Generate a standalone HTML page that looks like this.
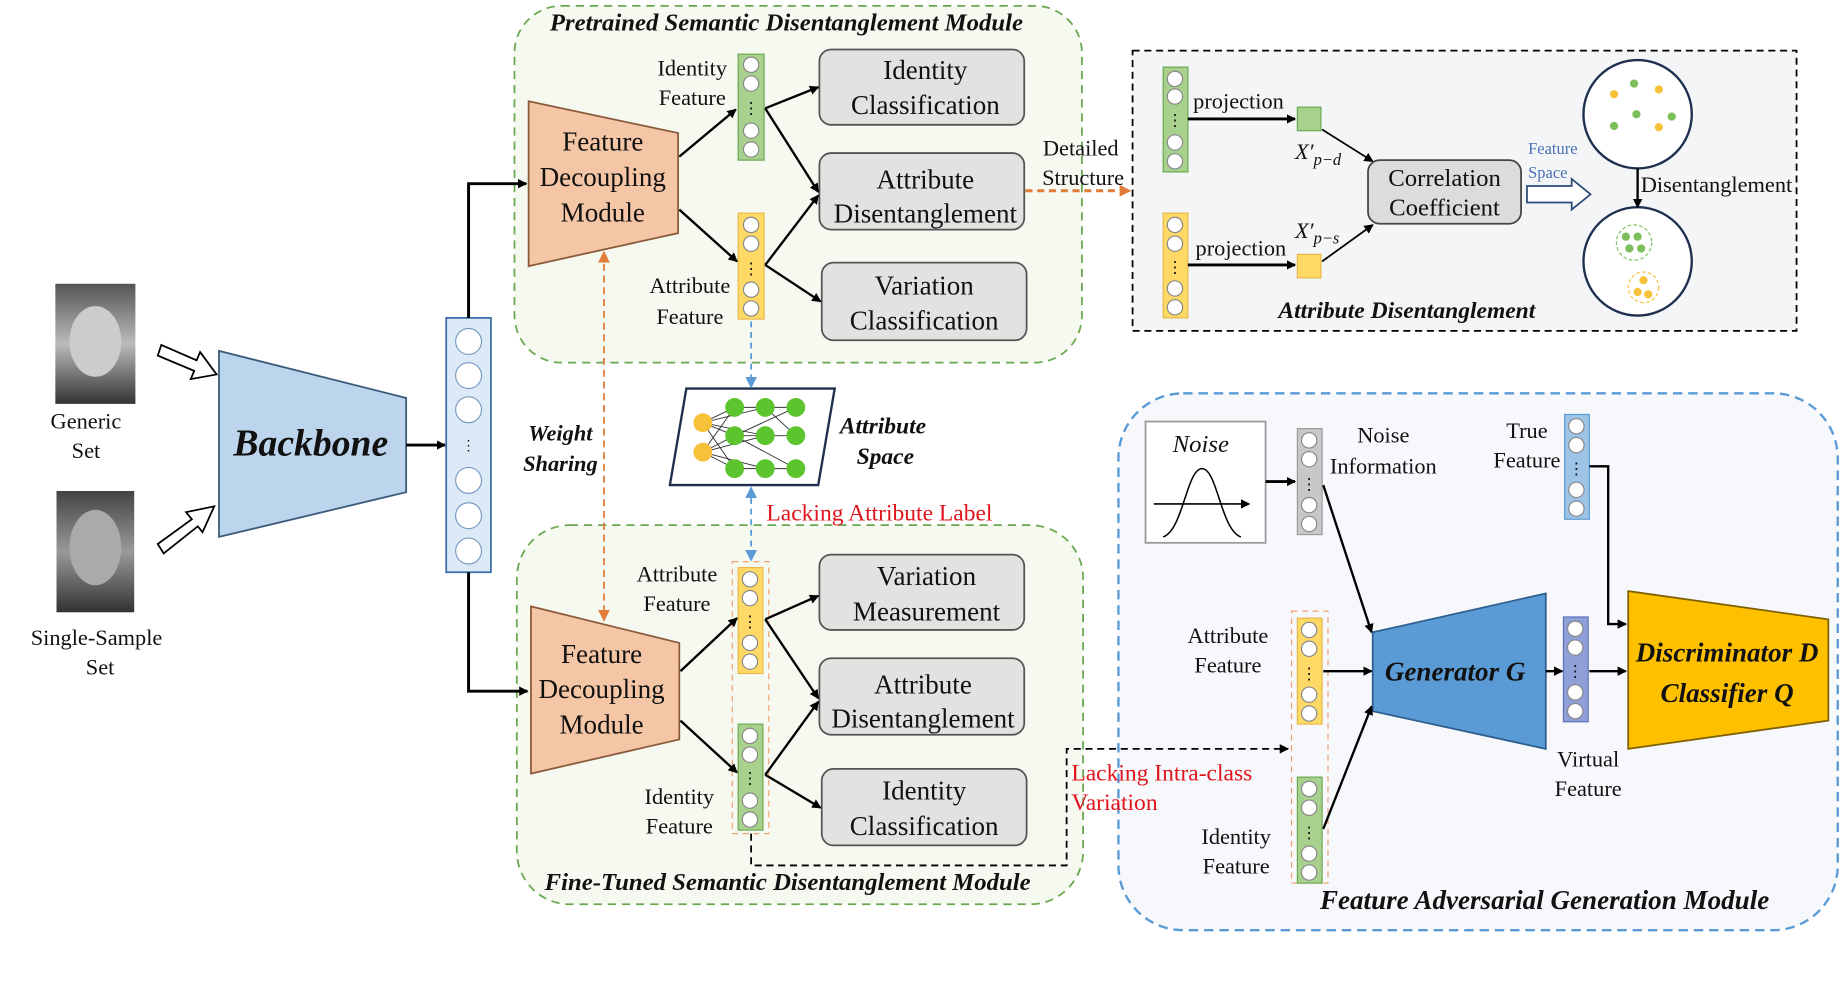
<!DOCTYPE html>
<html><head><meta charset="utf-8"><style>
html,body{margin:0;padding:0;background:#fff;}
svg{display:block;}
text{font-family:"Liberation Serif",serif;fill:#111;}
.bi{font-weight:bold;font-style:italic;}
</style></head><body>
<svg width="1846" height="982" viewBox="0 0 1568 834" preserveAspectRatio="none" xmlns="http://www.w3.org/2000/svg">
<defs>
<marker id="ab" markerWidth="8" markerHeight="8" refX="7" refY="4" orient="auto" markerUnits="userSpaceOnUse"><path d="M0,0 L8,4 L0,8z" fill="#000"/></marker>
<marker id="ao" markerWidth="10" markerHeight="10" refX="9" refY="5" orient="auto" markerUnits="userSpaceOnUse"><path d="M0,0 L10,5 L0,10z" fill="#e07b39"/></marker>
<marker id="aos" markerWidth="10" markerHeight="10" refX="1" refY="5" orient="auto" markerUnits="userSpaceOnUse"><path d="M10,0 L0,5 L10,10z" fill="#e07b39"/></marker>
<marker id="abl" markerWidth="10" markerHeight="10" refX="9" refY="5" orient="auto" markerUnits="userSpaceOnUse"><path d="M0,0 L10,5 L0,10z" fill="#5b9bd5"/></marker>
<marker id="abls" markerWidth="10" markerHeight="10" refX="1" refY="5" orient="auto" markerUnits="userSpaceOnUse"><path d="M10,0 L0,5 L10,10z" fill="#5b9bd5"/></marker>
<linearGradient id="f1" x1="0" y1="0" x2="0" y2="1"><stop offset="0" stop-color="#555"/><stop offset="0.5" stop-color="#bbb"/><stop offset="1" stop-color="#333"/></linearGradient>
<linearGradient id="f2" x1="0" y1="0" x2="0" y2="1"><stop offset="0" stop-color="#444"/><stop offset="0.5" stop-color="#999"/><stop offset="1" stop-color="#333"/></linearGradient>
</defs>

<!-- module backgrounds -->
<rect x="437" y="5" width="482" height="303" rx="40" fill="#f5f9f0" stroke="#6aa84f" stroke-width="1.5" stroke-dasharray="7,5"/>
<rect x="439" y="446" width="481" height="322" rx="45" fill="#f5f9f0" stroke="#6aa84f" stroke-width="1.5" stroke-dasharray="7,5"/>
<rect x="962" y="43" width="564" height="238" fill="#f3f5f7" stroke="#000" stroke-width="1.5" stroke-dasharray="6,4"/>
<rect x="950" y="334" width="611" height="456" rx="55" fill="#f6f8fb" stroke="#5b9bd5" stroke-width="2" stroke-dasharray="8,5"/>

<!-- faces -->
<rect x="47" y="241" width="68" height="102" fill="url(#f1)"/>
<ellipse cx="81" cy="290" rx="22" ry="30" fill="#ccc"/>
<rect x="48" y="417" width="66" height="103" fill="url(#f2)"/>
<ellipse cx="81" cy="465" rx="22" ry="32" fill="#aaa"/>
<g font-size="19" text-anchor="middle">
<text x="73" y="364">Generic</text><text x="73" y="389">Set</text>
<text x="82" y="548">Single-Sample</text><text x="85" y="573">Set</text>
</g>
<path d="M137,293 L167,306 L170,299 L184,318 L162,322 L165,315 L134,302z" fill="#fff" stroke="#000" stroke-width="1.5"/>
<path d="M134,462 L163,441 L158,435 L182,430 L172,452 L168,447 L139,470z" fill="#fff" stroke="#000" stroke-width="1.5"/>

<!-- backbone -->
<polygon points="186,298 345,338 345,418 186,456" fill="#bcd5ec" stroke="#3a5a7a" stroke-width="1.5"/>
<text x="264" y="387" font-size="32" class="bi" text-anchor="middle">Backbone</text>
<line x1="345" y1="378" x2="378" y2="378" stroke="#000" stroke-width="2.5" marker-end="url(#ab)"/>
<rect x="379" y="270" width="38" height="216" fill="#dce9f7" stroke="#3a6ea5" stroke-width="1.5"/>
<g fill="#fff" stroke="#7a9cc2"><circle cx="398" cy="290" r="11"/><circle cx="398" cy="319" r="11"/><circle cx="398" cy="348" r="11"/><circle cx="398" cy="408" r="11"/><circle cx="398" cy="438" r="11"/><circle cx="398" cy="468" r="11"/></g>
<text x="398" y="382" font-size="12" text-anchor="middle" fill="#fff">⋮</text>
<polyline points="398,270 398,156 447,156" fill="none" stroke="#000" stroke-width="2.5" marker-end="url(#ab)"/>
<polyline points="398,486 398,587 448,587" fill="none" stroke="#000" stroke-width="2.5" marker-end="url(#ab)"/>

<!-- top green module -->
<text x="668" y="26" font-size="21" class="bi" text-anchor="middle">Pretrained Semantic Disentanglement Module</text>
<polygon points="449,86 576,113 576,198 449,226" fill="#f4c6a5" stroke="#8b5a3a" stroke-width="1.5"/>
<g font-size="23" text-anchor="middle"><text x="512" y="128">Feature</text><text x="512" y="158">Decoupling</text><text x="512" y="188">Module</text></g>
<g font-size="19" text-anchor="middle"><text x="588" y="64">Identity</text><text x="588" y="89">Feature</text><text x="586" y="249">Attribute</text><text x="586" y="275">Feature</text></g>
<rect x="627" y="46" width="22" height="90" fill="#a9d18e" stroke="#6aa84f"/>
<g fill="#fff" stroke="#888"><circle cx="638" cy="55" r="6.5"/><circle cx="638" cy="71" r="6.5"/><circle cx="638" cy="111" r="6.5"/><circle cx="638" cy="127" r="6.5"/></g>
<text x="638" y="97" font-size="14" text-anchor="middle">⋮</text>
<rect x="627" y="181" width="22" height="90" fill="#ffd966" stroke="#e8b84a"/>
<g fill="#fff" stroke="#888"><circle cx="638" cy="191" r="6.5"/><circle cx="638" cy="207" r="6.5"/><circle cx="638" cy="246" r="6.5"/><circle cx="638" cy="262" r="6.5"/></g>
<text x="638" y="233" font-size="14" text-anchor="middle">⋮</text>
<g fill="#e2e3e1" stroke="#555" stroke-width="1.5">
<rect x="696" y="42" width="174" height="64" rx="10"/><rect x="696" y="130" width="174" height="65" rx="10"/><rect x="698" y="223" width="174" height="66" rx="10"/></g>
<g font-size="23" text-anchor="middle">
<text x="786" y="67">Identity</text><text x="786" y="97">Classification</text>
<text x="786" y="160">Attribute</text><text x="786" y="189">Disentanglement</text>
<text x="785" y="250">Variation</text><text x="785" y="280">Classification</text></g>
<g stroke="#000" stroke-width="2" marker-end="url(#ab)">
<line x1="577" y1="133" x2="625" y2="93"/><line x1="577" y1="178" x2="626" y2="222"/>
<line x1="650" y1="92" x2="695" y2="74"/><line x1="650" y1="92" x2="695" y2="163"/>
<line x1="650" y1="225" x2="695" y2="166"/><line x1="650" y1="225" x2="697" y2="256"/></g>
<g font-size="19" text-anchor="middle"><text x="918" y="132">Detailed</text><text x="920" y="157">Structure</text></g>
<line x1="871" y1="162" x2="960" y2="162" stroke="#e07b39" stroke-width="2.5" stroke-dasharray="6,4" marker-end="url(#ao)"/>

<!-- top right box -->
<rect x="988" y="57" width="21" height="89" fill="#a9d18e" stroke="#6aa84f"/>
<g fill="#fff" stroke="#888"><circle cx="998" cy="67" r="6.5"/><circle cx="998" cy="82" r="6.5"/><circle cx="998" cy="121" r="6.5"/><circle cx="998" cy="137" r="6.5"/></g>
<text x="998" y="107" font-size="14" text-anchor="middle">⋮</text>
<rect x="988" y="181" width="21" height="89" fill="#ffd966" stroke="#e8b84a"/>
<g fill="#fff" stroke="#888"><circle cx="998" cy="191" r="6.5"/><circle cx="998" cy="207" r="6.5"/><circle cx="998" cy="245" r="6.5"/><circle cx="998" cy="261" r="6.5"/></g>
<text x="998" y="232" font-size="14" text-anchor="middle">⋮</text>
<g font-size="19" text-anchor="middle"><text x="1052" y="92">projection</text><text x="1054" y="217">projection</text></g>
<g stroke="#000" stroke-width="2.5" marker-end="url(#ab)"><line x1="1009" y1="101" x2="1100" y2="101"/><line x1="1009" y1="225" x2="1100" y2="225"/></g>
<rect x="1102" y="91" width="20" height="20" fill="#a9d18e" stroke="#6aa84f"/>
<rect x="1102" y="216" width="20" height="20" fill="#ffd966" stroke="#e8b84a"/>
<text x="1100" y="135" font-size="19" font-style="italic">X′<tspan font-size="14" dy="5">p−d</tspan></text>
<text x="1100" y="202" font-size="19" font-style="italic">X′<tspan font-size="14" dy="5">p−s</tspan></text>
<g stroke="#000" stroke-width="1.5" marker-end="url(#ab)"><line x1="1123" y1="110" x2="1166" y2="137"/><line x1="1123" y1="222" x2="1166" y2="191"/></g>
<rect x="1162" y="136" width="130" height="54" rx="10" fill="#dcdcdc" stroke="#444" stroke-width="1.5"/>
<g font-size="21" text-anchor="middle"><text x="1227" y="158">Correlation</text><text x="1227" y="183">Coefficient</text></g>
<g font-size="14"><text x="1298" y="131" style="fill:#4a6fb5">Feature</text><text x="1298" y="151" style="fill:#4a6fb5">Space</text></g>
<path d="M1297,158 L1335,158 L1335,152 L1351,165 L1335,178 L1335,172 L1297,172z" fill="#fff" stroke="#2e4a78" stroke-width="1.5"/>
<circle cx="1391" cy="97" r="46" fill="#fff" stroke="#1f2f4f" stroke-width="2"/>
<circle cx="1391" cy="222" r="46" fill="#fff" stroke="#1f2f4f" stroke-width="2"/>
<line x1="1391" y1="143" x2="1391" y2="176" stroke="#000" stroke-width="2" marker-end="url(#ab)"/>
<text x="1458" y="163" font-size="19" text-anchor="middle">Disentanglement</text>
<g fill="#f7c23a"><circle cx="1371" cy="80" r="3.5"/><circle cx="1409" cy="76" r="3.5"/><circle cx="1409" cy="108" r="3.5"/></g>
<g fill="#7cbf5a"><circle cx="1388" cy="71" r="3.5"/><circle cx="1390" cy="97" r="3.5"/><circle cx="1371" cy="107" r="3.5"/><circle cx="1420" cy="99" r="3.5"/></g>
<circle cx="1388" cy="206" r="15" fill="none" stroke="#7cbf5a" stroke-dasharray="3,2"/>
<g fill="#7cbf5a"><circle cx="1381" cy="201" r="3.5"/><circle cx="1391" cy="201" r="3.5"/><circle cx="1384" cy="211" r="3.5"/><circle cx="1394" cy="211" r="3.5"/></g>
<circle cx="1396" cy="244" r="13" fill="none" stroke="#f7c23a" stroke-dasharray="3,2"/>
<g fill="#f7c23a"><circle cx="1396" cy="238" r="3.5"/><circle cx="1391" cy="248" r="3.5"/><circle cx="1400" cy="250" r="3.5"/></g>
<text x="1195" y="270" font-size="20" class="bi" text-anchor="middle">Attribute Disentanglement</text>

<!-- middle -->
<polygon points="583,330 709,330 695,412 569,412" fill="#fff" stroke="#1f2f4f" stroke-width="2"/>
<g stroke="#333" stroke-width="0.8">
<line x1="597" y1="359" x2="624" y2="346"/><line x1="597" y1="359" x2="624" y2="370"/><line x1="597" y1="359" x2="624" y2="398"/><line x1="597" y1="359" x2="650" y2="346"/><line x1="597" y1="359" x2="650" y2="370"/>
<line x1="597" y1="384" x2="624" y2="346"/><line x1="597" y1="384" x2="624" y2="370"/><line x1="597" y1="384" x2="624" y2="398"/><line x1="597" y1="384" x2="650" y2="398"/><line x1="597" y1="384" x2="650" y2="370"/>
<line x1="624" y1="346" x2="676" y2="346"/><line x1="624" y1="370" x2="676" y2="346"/><line x1="624" y1="370" x2="676" y2="370"/><line x1="624" y1="370" x2="676" y2="398"/><line x1="624" y1="398" x2="676" y2="398"/><line x1="650" y1="346" x2="676" y2="370"/></g>
<g fill="#5cc42c"><circle cx="624" cy="346" r="8"/><circle cx="650" cy="346" r="8"/><circle cx="676" cy="346" r="8"/><circle cx="624" cy="370" r="8"/><circle cx="650" cy="370" r="8"/><circle cx="676" cy="370" r="8"/><circle cx="624" cy="398" r="8"/><circle cx="650" cy="398" r="8"/><circle cx="676" cy="398" r="8"/></g>
<g fill="#f7c23a"><circle cx="597" cy="359" r="8"/><circle cx="597" cy="384" r="8"/></g>
<g font-size="20" class="bi" text-anchor="middle"><text x="750" y="368">Attribute</text><text x="752" y="394">Space</text></g>
<line x1="638" y1="273" x2="638" y2="329" stroke="#5b9bd5" stroke-width="1.5" stroke-dasharray="5,4" marker-end="url(#abl)"/>
<line x1="638" y1="414" x2="638" y2="476" stroke="#5b9bd5" stroke-width="1.5" stroke-dasharray="5,4" marker-start="url(#abls)" marker-end="url(#abl)"/>
<text x="747" y="442" font-size="20" text-anchor="middle" style="fill:#e0141c">Lacking Attribute Label</text>
<g font-size="19" class="bi" text-anchor="middle"><text x="476" y="374">Weight</text><text x="476" y="400">Sharing</text></g>
<line x1="513" y1="214" x2="513" y2="527" stroke="#e07b39" stroke-width="1.5" stroke-dasharray="6,4" marker-start="url(#aos)" marker-end="url(#ao)"/>

<!-- bottom green module -->
<text x="669" y="756" font-size="21" class="bi" text-anchor="middle">Fine-Tuned Semantic Disentanglement Module</text>
<polygon points="451,515 577,546 577,628 451,657" fill="#f4c6a5" stroke="#8b5a3a" stroke-width="1.5"/>
<g font-size="23" text-anchor="middle"><text x="511" y="563">Feature</text><text x="511" y="593">Decoupling</text><text x="511" y="623">Module</text></g>
<g font-size="19" text-anchor="middle"><text x="575" y="494">Attribute</text><text x="575" y="519">Feature</text><text x="577" y="683">Identity</text><text x="577" y="708">Feature</text></g>
<rect x="622" y="477" width="31" height="231" fill="none" stroke="#f0a070" stroke-dasharray="5,4"/>
<rect x="627" y="482" width="21" height="90" fill="#ffd966" stroke="#e8b84a"/>
<g fill="#fff" stroke="#888"><circle cx="637" cy="492" r="6.5"/><circle cx="637" cy="508" r="6.5"/><circle cx="637" cy="546" r="6.5"/><circle cx="637" cy="562" r="6.5"/></g>
<text x="637" y="533" font-size="14" text-anchor="middle">⋮</text>
<rect x="627" y="615" width="21" height="90" fill="#a9d18e" stroke="#6aa84f"/>
<g fill="#fff" stroke="#888"><circle cx="637" cy="625" r="6.5"/><circle cx="637" cy="641" r="6.5"/><circle cx="637" cy="680" r="6.5"/><circle cx="637" cy="696" r="6.5"/></g>
<text x="637" y="666" font-size="14" text-anchor="middle">⋮</text>
<g fill="#e2e3e1" stroke="#555" stroke-width="1.5">
<rect x="696" y="471" width="174" height="64" rx="10"/><rect x="696" y="559" width="174" height="65" rx="10"/><rect x="698" y="653" width="174" height="65" rx="10"/></g>
<g font-size="23" text-anchor="middle">
<text x="787" y="497">Variation</text><text x="787" y="527">Measurement</text>
<text x="784" y="589">Attribute</text><text x="784" y="618">Disentanglement</text>
<text x="785" y="679">Identity</text><text x="785" y="709">Classification</text></g>
<g stroke="#000" stroke-width="2" marker-end="url(#ab)">
<line x1="578" y1="570" x2="626" y2="525"/><line x1="578" y1="612" x2="626" y2="656"/>
<line x1="650" y1="526" x2="695" y2="506"/><line x1="650" y1="526" x2="695" y2="593"/>
<line x1="650" y1="658" x2="695" y2="596"/><line x1="650" y1="658" x2="697" y2="686"/></g>
<polyline points="638,708 638,735 906,735 906,636 1094,636" fill="none" stroke="#000" stroke-width="1.5" stroke-dasharray="6,4" marker-end="url(#ab)"/>

<!-- bottom right module -->
<g font-size="20"><text x="910" y="663" style="fill:#e0141c">Lacking Intra-class</text><text x="910" y="688" style="fill:#e0141c">Variation</text></g>
<text x="1312" y="772" font-size="23" class="bi" text-anchor="middle">Feature Adversarial Generation Module</text>
<rect x="973" y="358" width="102" height="103" fill="#fff" stroke="#999" stroke-width="1.5"/>
<text x="1020" y="384" font-size="21" font-style="italic" text-anchor="middle">Noise</text>
<path d="M988,456 C1005,450 1008,398 1021,398 C1034,398 1037,450 1054,456" fill="none" stroke="#000" stroke-width="1.3"/>
<line x1="980" y1="428" x2="1061" y2="428" stroke="#000" stroke-width="1.3" marker-end="url(#ab)"/>
<line x1="1075" y1="409" x2="1100" y2="409" stroke="#000" stroke-width="2.5" marker-end="url(#ab)"/>
<rect x="1102" y="364" width="21" height="90" fill="#c8c8c8" stroke="#999"/>
<g fill="#fff" stroke="#888"><circle cx="1112" cy="374" r="6.5"/><circle cx="1112" cy="390" r="6.5"/><circle cx="1112" cy="429" r="6.5"/><circle cx="1112" cy="445" r="6.5"/></g>
<text x="1112" y="416" font-size="14" text-anchor="middle">⋮</text>
<g font-size="19" text-anchor="middle"><text x="1175" y="376">Noise</text><text x="1175" y="402">Information</text>
<text x="1297" y="372">True</text><text x="1297" y="397">Feature</text>
<text x="1043" y="546">Attribute</text><text x="1043" y="571">Feature</text>
<text x="1050" y="717">Identity</text><text x="1050" y="742">Feature</text>
<text x="1349" y="651">Virtual</text><text x="1349" y="676">Feature</text></g>
<rect x="1329" y="352" width="21" height="89" fill="#9dc3e6" stroke="#5b9bd5"/>
<g fill="#fff" stroke="#888"><circle cx="1339" cy="362" r="6.5"/><circle cx="1339" cy="378" r="6.5"/><circle cx="1339" cy="416" r="6.5"/><circle cx="1339" cy="432" r="6.5"/></g>
<text x="1339" y="403" font-size="14" text-anchor="middle">⋮</text>
<polyline points="1350,396 1366,396 1366,530 1381,530" fill="none" stroke="#000" stroke-width="2" marker-end="url(#ab)"/>
<rect x="1097" y="519" width="31" height="231" fill="none" stroke="#f0a070" stroke-dasharray="5,4"/>
<rect x="1102" y="525" width="21" height="90" fill="#ffd966" stroke="#e8b84a"/>
<g fill="#fff" stroke="#888"><circle cx="1112" cy="535" r="6.5"/><circle cx="1112" cy="551" r="6.5"/><circle cx="1112" cy="590" r="6.5"/><circle cx="1112" cy="606" r="6.5"/></g>
<text x="1112" y="577" font-size="14" text-anchor="middle">⋮</text>
<rect x="1102" y="660" width="21" height="90" fill="#a9d18e" stroke="#6aa84f"/>
<g fill="#fff" stroke="#888"><circle cx="1112" cy="670" r="6.5"/><circle cx="1112" cy="686" r="6.5"/><circle cx="1112" cy="725" r="6.5"/><circle cx="1112" cy="741" r="6.5"/></g>
<text x="1112" y="712" font-size="14" text-anchor="middle">⋮</text>
<polygon points="1166,537 1313,504 1313,636 1166,604" fill="#5b9bd5" stroke="#2e5e8e" stroke-width="1.5"/>
<text x="1236" y="578" font-size="23" class="bi" text-anchor="middle">Generator G</text>
<g stroke="#000" stroke-width="2" marker-end="url(#ab)">
<line x1="1124" y1="412" x2="1165" y2="537"/><line x1="1124" y1="570" x2="1165" y2="570"/><line x1="1124" y1="704" x2="1165" y2="600"/>
<line x1="1313" y1="570" x2="1327" y2="570"/><line x1="1350" y1="570" x2="1381" y2="570"/></g>
<rect x="1328" y="524" width="21" height="89" fill="#8fa0d8" stroke="#5b6fb5"/>
<g fill="#fff" stroke="#888"><circle cx="1338" cy="534" r="6.5"/><circle cx="1338" cy="550" r="6.5"/><circle cx="1338" cy="588" r="6.5"/><circle cx="1338" cy="604" r="6.5"/></g>
<text x="1338" y="575" font-size="14" text-anchor="middle">⋮</text>
<polygon points="1383,502 1553,526 1553,612 1383,636" fill="#ffc000" stroke="#7f6000" stroke-width="1.5"/>
<g font-size="23" class="bi" text-anchor="middle"><text x="1467" y="562">Discriminator D</text><text x="1467" y="596">Classifier Q</text></g>
</svg>
</body></html>
